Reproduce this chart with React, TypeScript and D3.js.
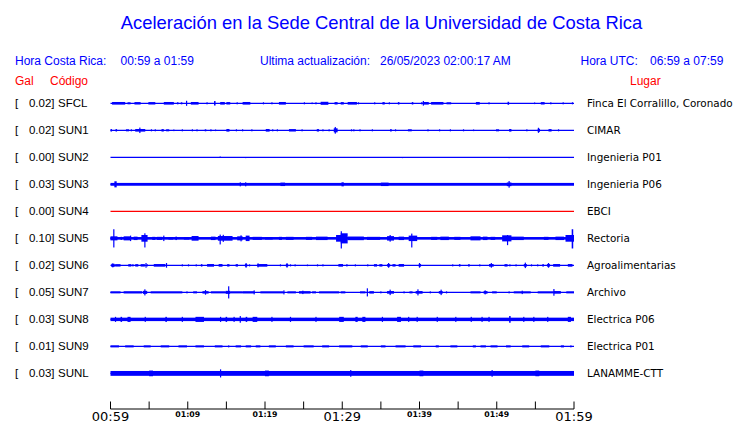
import * as d3 from "d3";
import React from "react";

// Estaciones, de arriba hacia abajo
const codes: string[] = ["SFCL", "SUN1", "SUN2", "SUN3", "SUN4", "SUN5", "SUN6", "SUN7", "SUN8", "SUN9", "SUNL"];
const gals: string[] = ["0.02", "0.02", "0.00", "0.03", "0.00", "0.10", "0.02", "0.05", "0.03", "0.01", "0.03"];
const places: string[] = [
  "Finca El Corralillo, Coronado",
  "CIMAR",
  "Ingenieria P01",
  "Ingenieria P06",
  "EBCI",
  "Rectoria",
  "Agroalimentarias",
  "Archivo",
  "Electrica P06",
  "Electrica P01",
  "LANAMME-CTT",
];
const deadStations: string[] = ["SUN4"];

// Ruido de fondo (semi-amplitud) por estación
const baseAmp: number[] = [0, 0, 0, 1.4, 0, 1.3, 0, 0.3, 1.7, 0, 2.4];

type Ev = [number, number, number, number?];

const sfclEvents: Ev[] = [
  [0.2, 1.9, 1.3], [2.2, 2.6, 1], [3.1, 3.9, 1.2], [4.9, 5.8, 1.2], [6.9, 8.2, 1.3], [8.6, 8.8, 1], [9.1, 9.3, 1],
  [9.85, 9.85, 2.5], [10.4, 11.4, 1.3], [12.5, 12.5, 1], [13.4, 13.6, 2.2], [14.2, 14.8, 1.3], [15.0, 15.5, 1.2],
  [16.4, 16.4, 1], [17.1, 18.1, 1.3], [19.8, 19.8, 1], [20.9, 20.9, 1], [21.8, 22.7, 1.3], [25.1, 25.1, 1],
  [26.1, 26.1, 0.8], [26.6, 26.6, 1], [27.2, 28.2, 1.5], [29, 29.4, 1.2], [29.8, 30.2, 1.2], [30.7, 31.9, 1.3],
  [32.1, 32.1, 1], [34.2, 34.2, 1], [35.2, 35.5, 1.2], [36.1, 36.1, 1], [37.2, 37.4, 1.2], [39, 39.2, 1.2],
  [40.2, 40.4, 1], [40.5, 41.2, 1.3], [40.5, 40.5, 2.3], [41.5, 43.1, 1.3], [43.5, 44.1, 1], [47.3, 47.8, 1.3],
  [49, 49, 1], [51.4, 51.6, 1.5], [54.9, 54.9, 0.8], [55.7, 56.2, 1.2], [57, 57, 1], [58.6, 58.6, 1], [59.8, 59.8, 1],
];
const sun1Events: Ev[] = [
  [0, 0.2, 1.2], [0.65, 0.85, 1.2], [2, 2.4, 1], [2.7, 2.7, 1], [3.2, 4.5, 1.3], [3.8, 3.8, 2.7], [5.3, 5.3, 1],
  [5.8, 5.8, 1], [6.6, 6.9, 1.2], [7.2, 7.6, 1], [8.2, 8.2, 0.8], [9.3, 9.3, 1], [10.6, 10.6, 1], [11.2, 11.2, 1],
  [12.2, 12.4, 1], [13, 13, 1], [13.6, 13.6, 0.8], [15, 15.4, 1.3], [16.3, 16.3, 1], [17.1, 17.1, 1], [18.3, 18.3, 1],
  [20.1, 20.6, 1.3], [21, 21, 1], [21.6, 21.6, 1], [23.1, 24, 1.2], [24.8, 24.8, 1], [26.7, 27, 1.2], [27.5, 27.5, 1],
  [28.3, 28.3, 1], [28.9, 29.4, 2], [29.1, 29.1, 3.3], [31.2, 31.2, 1], [31.5, 31.5, 1], [32.3, 32.3, 1],
  [33.9, 33.9, 1], [36.2, 36.4, 1.2], [36.9, 36.9, 1], [38.5, 39, 1], [41.1, 41.1, 1], [42.6, 42.6, 1], [44, 44, 1],
  [45.7, 45.7, 1], [47, 47, 0.8], [49.9, 50.3, 1], [51.6, 51.9, 1.3], [53.9, 53.9, 1], [55.3, 55.6, 1.5],
  [55.4, 55.4, 2.5], [56.7, 57.1, 1.2], [58, 58, 1],
];
const sun2Events: Ev[] = [[14.2, 14.2, 0.8, 0], [17.5, 17.5, 0, 0.8], [37.8, 37.8, 0, 0.8], [51.6, 51.6, 0, 0.8]];
const sun3Events: Ev[] = [
  [0.5, 0.8, 3], [16.8, 16.8, 2], [17.5, 17.5, 2], [22, 22.6, 1.7], [29.9, 30.2, 2], [35, 36, 1.7],
  [51.3, 51.9, 1.8], [51.6, 51.6, 3.3],
];
const sun4Events: Ev[] = [];
const sun5Events: Ev[] = [
  [0, 0.9, 2], [0.43, 0.43, 9, 9], [1.3, 1.5, 1.5], [1.7, 2.6, 2], [2.6, 2.6, 2.7], [3, 3.5, 1.7], [4, 4.8, 3.3],
  [4.45, 4.45, 5, 9], [5.4, 5.8, 1.5], [6, 6.7, 1.5], [6.9, 6.9, 2.7], [7.5, 8.1, 1.2], [8.4, 8.6, 1.7],
  [9.5, 10.2, 1.2], [10.5, 11.4, 2.3], [13, 13.6, 1.7], [13.9, 15.8, 2.3], [14.2, 14.2, 3.7, 6], [14.6, 14.6, 3.5],
  [16.4, 17.1, 2], [16.9, 16.9, 3], [17.5, 18, 2.7], [18.4, 19.6, 1.5], [20, 21, 1.2], [21.8, 22.2, 1.5],
  [22.7, 23.7, 1.5], [25.3, 26.1, 1.5], [26.6, 28.1, 1.7], [29.2, 30.2, 3.3], [29.8, 29.9, 7, 10],
  [29.8, 30.7, 5], [30.7, 32.8, 1.8], [33.2, 34.9, 1.5], [35.8, 36.7, 2.2], [36.2, 36.2, 3.3], [37.3, 38, 1.7],
  [38.6, 39.7, 2.7], [39, 39, 4.7, 9], [41.5, 42.3, 1.5], [42.7, 43.8, 1.7], [44.5, 45.3, 1.5], [46.6, 47.9, 2],
  [48.2, 48.8, 1.7], [49.2, 49.8, 1.5], [50.7, 51.9, 3], [51.4, 51.4, 3.3, 6.7], [51.8, 53.5, 1.7],
  [56.1, 56.7, 1.5], [57.6, 58.7, 1.7], [58.9, 60, 3.3], [59.7, 59.9, 9, 10],
];
const sun6Events: Ev[] = [
  [0.1, 0.55, 1.5], [0.3, 0.3, 2], [0.6, 1.3, 1.2], [2.3, 2.7, 1.2], [2.8, 3, 1], [3.2, 3.6, 1.2], [3.9, 4.45, 1.2],
  [4.6, 4.6, 2.3], [4.7, 4.8, 1], [5.6, 7.1, 1.3], [7.25, 7.25, 2.3], [9.3, 9.3, 1], [10.1, 10.1, 1], [11.1, 11.1, 1],
  [11.7, 11.9, 1.2], [12.5, 13.4, 1.3], [14, 14.5, 1.3], [15.1, 15.4, 1.2], [16.2, 16.5, 1.2], [17.4, 17.7, 1.3],
  [17.55, 17.55, 2.3], [18, 18, 1], [19, 20.3, 1.3], [19.1, 19.1, 2], [22, 22, 1], [22.7, 23, 1.3],
  [22.85, 22.85, 2.2], [23.3, 23.3, 1], [23.9, 23.9, 1], [25.5, 25.5, 0.8], [26.8, 26.8, 1], [27.5, 27.5, 1],
  [29.5, 30.1, 1.3], [30.5, 30.7, 1], [31.7, 31.7, 1], [33.3, 33.3, 1], [34.1, 34.5, 1.2], [34.8, 35.2, 1.2],
  [35.8, 36.2, 1.3], [36, 36, 2.3], [36.5, 36.9, 1.2], [37.3, 38, 1.3], [39.9, 40.2, 1.3], [40, 40, 2.3],
  [44.3, 44.3, 1], [45.1, 45.3, 1.2], [46.3, 46.5, 1.2], [47.8, 47.8, 1], [49, 49.6, 1.3], [49.3, 49.3, 2.3],
  [51, 51.4, 1.2], [51.7, 51.7, 1], [52.5, 52.5, 1], [53.5, 53.9, 1.3], [53.7, 53.7, 2.7], [54.5, 54.5, 1],
  [55.3, 55.3, 1], [55.9, 56.1, 1.2], [56.5, 56.9, 1.3], [56.7, 56.7, 2.3], [57.3, 58.2, 1.3], [59.2, 59.8, 1.3],
];
const sun7Events: Ev[] = [
  [0, 1.3, 1], [1.7, 4.1, 1.1], [4.2, 4.75, 1.5], [4.45, 4.45, 3], [5.2, 9.3, 1], [9.9, 9.9, 1], [10.7, 11.2, 1],
  [11.9, 12.7, 1.2], [12.3, 12.3, 2.3], [13, 14.9, 1], [14.9, 15.5, 1.5], [15.3, 15.3, 6], [15.5, 17.1, 1],
  [17.1, 18.6, 1.1], [18.6, 18.6, 2], [19.4, 22.4, 1], [22.45, 22.45, 2], [22.9, 24, 1], [24.4, 25.9, 1.2],
  [24.9, 24.9, 1.7], [26.1, 26.6, 1], [27, 29.6, 1], [29.8, 30.4, 1], [32.3, 33, 1], [33.25, 33.25, 4],
  [33.5, 34.1, 1.2], [35, 35, 1], [35.8, 36.7, 1.3], [36.2, 36.2, 2.7], [38, 38, 1], [38.7, 39.1, 1],
  [39.5, 40.4, 1.3], [39.8, 39.8, 3], [41.4, 41.4, 1], [42.5, 43, 1.3], [42.8, 42.8, 2.7], [43.5, 43.5, 1],
  [46.6, 47.9, 1], [48.3, 48.8, 1.3], [48.5, 48.5, 2], [49.4, 50, 1], [51.6, 51.6, 1], [52.2, 54.4, 1],
  [53.3, 53.3, 1.7], [55.3, 57.4, 1], [57.4, 58.3, 1.3], [57.4, 57.4, 3.3], [59, 60, 1],
];
const sun8Events: Ev[] = [
  [0.65, 0.65, 2.5], [1.3, 1.5, 2.5], [2.2, 2.6, 2.5], [4.5, 4.5, 2.5], [7.1, 7.3, 2.5], [9.3, 9.3, 2.5],
  [11, 12.1, 2.5], [14.25, 14.25, 2.5], [14.9, 15.1, 2.5], [16, 16, 2.5], [16.8, 16.8, 3.3], [17.5, 17.7, 2.5],
  [18.4, 19, 2.5], [20.9, 20.9, 2.5], [23.3, 23.3, 2.5], [26.6, 26.6, 2.5], [29.6, 30.2, 2.5], [31.7, 32, 2.5],
  [32.6, 33, 2.5], [35.2, 35.2, 2.5], [37.1, 37.6, 2.5], [38.6, 38.6, 2.5], [39.7, 39.7, 2.5], [42.3, 42.3, 2.5],
  [44.7, 44.7, 2.5], [46.7, 46.7, 2.5], [48.1, 48.1, 2.5], [49, 49, 2.5], [51.6, 51.8, 3.3], [53.5, 53.5, 2.5],
  [54.8, 54.8, 2.5], [56.6, 56.6, 2.5], [59.2, 59.6, 2.5],
];
const sun9Events: Ev[] = [
  [0, 1.1, 1], [1.9, 3, 1], [4.3, 5.2, 1], [6.5, 7.6, 1], [8.8, 9.9, 1], [11, 12.1, 1], [13.5, 14.5, 1],
  [15.3, 15.3, 1], [16.2, 16.9, 1], [17.5, 18.2, 1], [18.8, 19.4, 1], [20.5, 21.4, 1], [22.7, 23.7, 1],
  [25, 26.3, 1], [27.4, 28.3, 1], [29.6, 31.3, 1], [32.4, 33.3, 1], [35, 35.6, 1], [36.9, 38.2, 1],
  [39.2, 40.2, 1], [42.1, 42.5, 1], [44, 44.9, 1], [46.9, 47.3, 1], [47.9, 48.6, 1], [49.2, 50.1, 1],
  [51.2, 51.8, 1], [53.3, 54.2, 1], [55.7, 56.8, 1], [58.3, 58.7, 1], [59.6, 59.6, 1],
];
const sunlEvents: Ev[] = [
  [5, 5.5, 2.8], [14.25, 14.25, 4], [20, 20.5, 2.8], [31.1, 31.1, 3.3], [40, 40.5, 2.8], [49.4, 49.4, 3.3],
  [55, 55.5, 2.8],
];
const events: Ev[][] = [
  sfclEvents, sun1Events, sun2Events, sun3Events, sun4Events, sun5Events,
  sun6Events, sun7Events, sun8Events, sun9Events, sunlEvents,
];

// Eje de tiempo (minutos desde 00:59)
const tickMinutes: number[] = [0, 5, 10, 15, 20, 25, 30, 35, 40, 45, 50, 55, 60];
const labelMinutes: number[] = [0, 10, 20, 30, 40, 50, 60];
const tickLabels: string[] = ["00:59", "01:09", "01:19", "01:29", "01:39", "01:49", "01:59"];
const majorLabels: string[] = ["00:59", "01:29", "01:59"];

const width = 740;
const height = 423;
const blue = "#0000ff";
const red = "#ff0000";
const sans = "'Liberation Sans', Arial, sans-serif";
const deja = "'DejaVu Sans', sans-serif";

export default function App() {
  const x = d3.scaleLinear().domain([0, 60]).range([110.5, 574]);
  const y = d3.scalePoint<string>().domain(codes).range([103.3, 373.4]);
  const amp = d3.scaleLinear().domain([0, 12]).range([0, y.step() * 0.45]);
  const axisY = 409;

  return (
    <svg width={width} height={height} style={{ position: "absolute", left: 0, top: 0, background: "#fff" }}>
      <text x={381.5} y={29} textAnchor="middle" fontFamily={sans} fontSize={18.4} fill={blue}>
        Aceleración en la Sede Central de la Universidad de Costa Rica
      </text>
      <g fontFamily={sans} fontSize={12} fill={blue}>
        <text x={15} y={65}>Hora Costa Rica:</text>
        <text x={120.5} y={65}>00:59 a 01:59</text>
        <text x={260} y={65}>Ultima actualización:</text>
        <text x={380} y={65}>26/05/2023 02:00:17 AM</text>
        <text x={580.5} y={65}>Hora UTC:</text>
        <text x={650} y={65}>06:59 a 07:59</text>
      </g>
      <g fontFamily={sans} fontSize={12} fill={red}>
        <text x={15} y={85}>Gal</text>
        <text x={50} y={85}>Código</text>
        <text x={630} y={85}>Lugar</text>
      </g>

      {codes.map((c, i) => {
        const cy = y(c)!;
        const color = deadStations.includes(c) ? red : blue;
        return (
          <g key={c}>
            <text x={15} y={cy + 3.5} fontFamily={sans} fontSize={11.5} fill="#000">[</text>
            <text x={54.5} y={cy + 3.5} textAnchor="end" fontFamily={sans} fontSize={11.5} fill="#000">
              {gals[i]}]
            </text>
            <text x={58} y={cy + 3.5} fontFamily={sans} fontSize={11.5} fill="#000">{c}</text>
            <text x={587} y={cy + 3.5} fontFamily={deja} fontSize={10.4} fill="#000">{places[i]}</text>

            <line x1={x(0)} x2={x(60)} y1={cy} y2={cy} stroke={color} strokeWidth={1.2} />
            {baseAmp[i] > 0 && (
              <rect x={x(0)} width={x(60) - x(0)} y={cy - amp(baseAmp[i])} height={2 * amp(baseAmp[i])} fill={color} />
            )}
            {events[i].map((e, j) => {
              const up = e[2];
              const down = e[3] === undefined ? e[2] : e[3];
              const x0 = x(e[0]);
              const w = Math.max(x(e[1]) - x0, 1.2);
              return (
                <rect
                  key={j}
                  x={e[0] === e[1] ? x0 - 0.6 : x0}
                  width={w}
                  y={cy - amp(up)}
                  height={Math.max(amp(up) + amp(down), 0.1)}
                  fill={color}
                />
              );
            })}
          </g>
        );
      })}

      <g stroke="#000" strokeWidth={1}>
        <line x1={x(0)} x2={x(60)} y1={axisY} y2={axisY} />
        {tickMinutes.map((m) => (
          <line key={m} x1={x(m)} x2={x(m)} y1={axisY} y2={axisY - 7.5} />
        ))}
      </g>
      {labelMinutes.map((m, i) => {
        const big = majorLabels.includes(tickLabels[i]);
        return (
          <text
            key={m}
            x={x(m)}
            y={big ? 421 : 417}
            textAnchor="middle"
            fontFamily={deja}
            fontSize={big ? 13 : 7.8}
            fontWeight={big ? "normal" : "bold"}
            fill="#000"
          >
            {tickLabels[i]}
          </text>
        );
      })}
    </svg>
  );
}
